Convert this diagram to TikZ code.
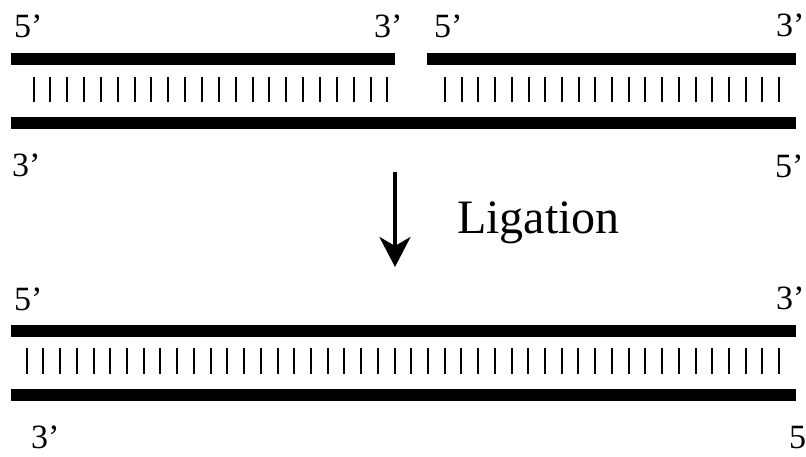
\documentclass[tikz,border=0pt]{standalone}
\usepackage{fontspec}
\setmainfont{Liberation Serif}
\usetikzlibrary{arrows.meta}
\begin{document}
\begin{tikzpicture}[x=1pt,y=-1pt,
  strand/.style={line width=12pt},
  bond/.style={line width=2pt},
  endlabel/.style={anchor=base west, inner sep=0pt, font=\fontsize{34}{40}\selectfont},
  steplabel/.style={anchor=base west, inner sep=0pt, font=\fontsize{48}{54}\selectfont},
  steparrow/.style={line width=4pt, -{Stealth[length=30pt,width=31pt,inset=9pt]}}
  ]
\useasboundingbox (0,0) rectangle (806,457);

% --- nicked duplex (before ligation) ---
\coordinate (a1) at (11,59);  \coordinate (a2) at (395,59);
\coordinate (b1) at (427,59); \coordinate (b2) at (796,59);
\coordinate (c1) at (11,123); \coordinate (c2) at (796,123);
\draw[strand] (a1) -- (a2);
\draw[strand] (b1) -- (b2);
\draw[strand] (c1) -- (c2);
\foreach \i in {0,...,21} \draw[bond] ({33.5+\i*16.85},77) -- ++(0,25);
\foreach \i in {0,...,20} \draw[bond] ({445+\i*16.7},77) -- ++(0,25);

\node[endlabel] (t5a) at (14,38) {5’};
\node[endlabel] (t3a) at (374,38) {3’};
\node[endlabel] (t5b) at (434,38) {5’};
\node[endlabel] (t3b) at (776,37) {3’};
\node[endlabel] (u3a) at (12,177) {3’};
\node[endlabel] (u5b) at (775,178) {5’};

% --- ligation step ---
\coordinate (arrS) at (395,172);
\coordinate (arrE) at (395,267);
\draw[steparrow] (arrS) -- (arrE);
\node[steplabel] (lig) at (457,234) {Ligation};

% --- sealed duplex (after ligation) ---
\coordinate (d1) at (11,331); \coordinate (d2) at (796,331);
\coordinate (e1) at (11,395); \coordinate (e2) at (796,395);
\draw[strand] (d1) -- (d2);
\draw[strand] (e1) -- (e2);
\foreach \i in {0,...,45} \draw[bond] ({26.7+\i*16.72},348) -- ++(0,26);

\node[endlabel] (l5a) at (14,310) {5’};
\node[endlabel] (l3b) at (776,309) {3’};
\node[endlabel] (m3a) at (31,448) {3’};
\node[endlabel] (m5b) at (789,448) {5};
\end{tikzpicture}
\end{document}
